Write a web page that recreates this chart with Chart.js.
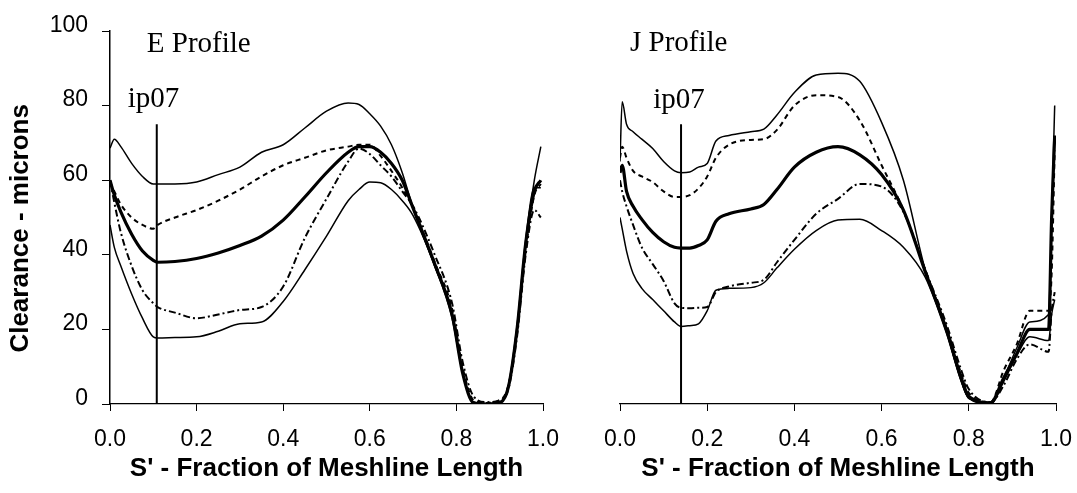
<!DOCTYPE html>
<html><head><meta charset="utf-8">
<script src="https://cdn.jsdelivr.net/npm/chart.js@4"></script>
<style>
html,body{margin:0;padding:0;background:#fff;}
#wrap{position:relative;width:1077px;height:493px;overflow:hidden;}
canvas{position:absolute;left:0;top:0;}
</style></head><body>
<div id="wrap"><canvas id="cE" width="1077" height="493"></canvas><canvas id="cJ" width="1077" height="493"></canvas></div>
<script>
// ---------- data ----------
const xTicks = [0, 0.2, 0.4, 0.6, 0.8, 1.0];
const yTicks = [0, 20, 40, 60, 80, 100];
const xTitle = "S' - Fraction of Meshline Length";
const yTitle = "Clearance - microns";

// E profile
const eX         = [0, 0.01, 0.025, 0.05, 0.075, 0.1, 0.11, 0.15, 0.2, 0.25, 0.3, 0.35, 0.4, 0.45, 0.5, 0.55, 0.575, 0.6, 0.625, 0.65, 0.675, 0.7, 0.75, 0.79, 0.815, 0.84, 0.87, 0.9, 0.92, 0.94, 0.96, 0.98, 0.995];
const eUpper     = [68.6, 71, 69, 64.5, 61, 59, 59, 59, 59.5, 61.5, 63.5, 67.5, 69.5, 74, 78.5, 80.7, 80.3, 77.8, 74.5, 69.5, 62, 52.5, 37, 24, 8, 0.5, 0, 0.5, 4.5, 20, 43, 60, 69];
const eUpperDash = [59.5, 57, 53.5, 50, 48, 47, 48, 50, 52, 54.5, 57.5, 61, 64, 66, 68, 69, 69.5, 69.5, 66.5, 62.5, 58, 52.5, 38, 25.5, 9.5, 1, 0.3, 1, 5, 19, 41, 56, 59];
const eMean      = [60, 56, 51.5, 45.5, 41, 38.5, 38, 38.2, 39, 40.5, 42.5, 45, 49.3, 55.5, 62, 67.5, 69, 69, 67.5, 64.5, 60, 52.5, 37.5, 24, 8, 0.3, 0, 0.3, 4.5, 20, 43, 57, 60];
const eLowerDash = [60, 54, 46, 37, 30.5, 27, 26, 24.5, 23, 24, 25.2, 26, 31.5, 44.5, 55, 65, 68.5, 67, 64, 61, 57, 53, 40, 27, 11, 2, 0.5, 1, 4, 18, 40, 52, 50];
const eLower     = [48, 42, 37, 29.5, 23, 18, 17.7, 17.8, 18, 19.5, 21.5, 22, 27.5, 36, 45, 54.5, 57.5, 59.5, 59.3, 57.5, 54.5, 50.5, 37, 23, 8, 0.5, 0, 0.5, 5, 21, 44, 58, 58];
const eIp07X = 0.108, ipTop = 75;

// J profile
const jX         = [0, 0.005, 0.015, 0.03, 0.05, 0.075, 0.1, 0.125, 0.14, 0.16, 0.18, 0.2, 0.22, 0.25, 0.3, 0.33, 0.36, 0.4, 0.45, 0.5, 0.55, 0.6, 0.65, 0.7, 0.75, 0.78, 0.8, 0.85, 0.88, 0.91, 0.94, 0.983, 0.99, 0.997];
const jUpper     = [65, 81, 75, 73, 71, 68.5, 65, 62.5, 62, 62.2, 63.5, 64.5, 70.5, 72, 73, 73.7, 77.5, 83.5, 88.2, 88.7, 86.5, 75.5, 60, 36, 19, 7, 1.5, 0.5, 7, 15, 22, 24, 50, 80];
const jUpperDash = [66, 69, 66, 62.5, 61, 59.5, 57, 55.5, 55.5, 56, 57.8, 61, 66, 69.5, 70.8, 71, 73.5, 80, 82.8, 82.3, 76, 64, 52, 36, 20, 9, 3, 0.5, 9, 16, 25, 25, 35, 68];
const jMean      = [62, 64, 57, 53, 49.5, 46, 43.5, 42, 41.8, 41.8, 42.5, 44, 49, 51, 52.3, 53.5, 57.5, 63.5, 67.5, 69, 66.8, 61.5, 52, 35.5, 19.5, 8, 2, 0.3, 7, 13.5, 20, 20, 50, 72];
const jLowerDash = [60, 57, 53, 48, 42, 37.5, 33, 27, 25.8, 25.7, 25.8, 26, 30, 31.5, 32.5, 33.3, 38, 44, 51, 55, 59, 58.3, 51.5, 36, 21, 10, 4, 0.5, 5, 12, 16, 14, 25, 30];
const jLower     = [50, 47, 41, 35, 31, 28, 25, 22, 20.8, 21, 21.5, 25, 30.5, 31, 31.2, 32.5, 36.5, 41.5, 46.5, 49.3, 49.5, 46.5, 42, 34, 18.5, 7, 1.5, 0, 6, 13, 18, 17, 24, 28];
const jIp07X = 0.14;

// ---------- chart ----------
Chart.defaults.font.family = "'Liberation Sans', Arial, sans-serif";
Chart.defaults.color = '#000';
const SERIF = "'Liberation Serif', 'Times New Roman', serif";

function pts(xs, ys){ return xs.map((x,i)=>({x:x, y:ys[i]})); }
function series(xs, ys, kind){
  const base = {data: pts(xs, ys), borderColor:'#000', backgroundColor:'#000', pointRadius:0, fill:false, cubicInterpolationMode:'monotone'};
  if(kind==='thin') return Object.assign(base,{borderWidth:1.5});
  if(kind==='thick') return Object.assign(base,{borderWidth:3.2});
  if(kind==='dashU') return Object.assign(base,{borderWidth:2, borderDash:[5,4]});
  return Object.assign(base,{borderWidth:2, borderDash:[7,3,2,3]});
}
function ipLine(x){
  return {data:[{x:x,y:0},{x:x,y:ipTop}], borderColor:'#000', borderWidth:2, pointRadius:0, fill:false};
}

const labelPlugin = {
  id:'labels',
  afterDatasetsDraw(chart, args, opts){
    const ctx = chart.ctx, xs = chart.scales.x, ys = chart.scales.y;
    ctx.save();
    ctx.fillStyle = '#000';
    ctx.textBaseline = 'alphabetic';
    ctx.textAlign = 'left';
    ctx.font = '29px ' + SERIF;
    opts.items.forEach(it=>{
      ctx.fillText(it.text, xs.getPixelForValue(it.x), ys.getPixelForValue(it.y));
    });
    ctx.restore();
  }
};

function makeChart(id, xs, u, ud, m, ld, l, ipX, showY, padL, padR, labels){
  return new Chart(document.getElementById(id), {
    type:'line',
    data:{datasets:[
      series(xs,u,'thin'), series(xs,ud,'dashU'), series(xs,m,'thick'),
      series(xs,ld,'dashL'), series(xs,l,'thin'), ipLine(ipX)
    ]},
    options:{
      responsive:false, animation:false, devicePixelRatio:1,
      layout:{padding:{left:padL, right:padR, top:31, bottom:0}},
      plugins:{legend:{display:false}, tooltip:{enabled:false}, labels:{items:labels}},
      scales:{
        x:{type:'linear', min:0, max:1,
          afterBuildTicks(s){ s.ticks = xTicks.map(v=>({value:v})); },
          ticks:{callback:v=>Number(v).toFixed(1), color:'#000', font:{size:23}, padding:15, maxRotation:0, autoSkip:false},
          grid:{display:true, drawOnChartArea:false, drawTicks:true, tickLength:7, color:'#000', lineWidth:1},
          border:{display:true, color:'#000', width:1.2},
          title:{display:true, text:xTitle, color:'#000', font:{size:26, weight:'bold'}, padding:{top:0, bottom:9}},
          afterFit(s){ s.height = 89; s.paddingLeft = 0; s.paddingRight = 0; }
        },
        y:{type:'linear', min:0, max:100, display:showY,
          afterBuildTicks(s){ s.ticks = yTicks.map(v=>({value:v})); },
          ticks:{color:'#000', font:{size:23}, padding:14, labelOffset:-5.5},
          grid:{display:true, drawOnChartArea:false, drawTicks:true, tickLength:8, color:'#000', lineWidth:1},
          border:{display:true, color:'#000', width:1.5},
          title:{display:true, text:yTitle + '   ', color:'#000', font:{size:26, weight:'bold'}, padding:{top:5, bottom:0}},
          afterFit(s){ s.width = showY ? 110 : 0; s.paddingTop = 0; s.paddingBottom = 0; }
        }
      }
    },
    plugins:[labelPlugin]
  });
}

makeChart('cE', eX, eUpper, eUpperDash, eMean, eLowerDash, eLower, eIp07X, true, 0, 1077-543,
  [{text:'E Profile', x:0.085, y:94.4}, {text:'ip07', x:0.041, y:79.6}]);
makeChart('cJ', jX, jUpper, jUpperDash, jMean, jLowerDash, jLower, jIp07X, false, 620, 1077-1056,
  [{text:'J Profile', x:0.023, y:94.6}, {text:'ip07', x:0.076, y:79.4}]);
</script>
</body></html>
